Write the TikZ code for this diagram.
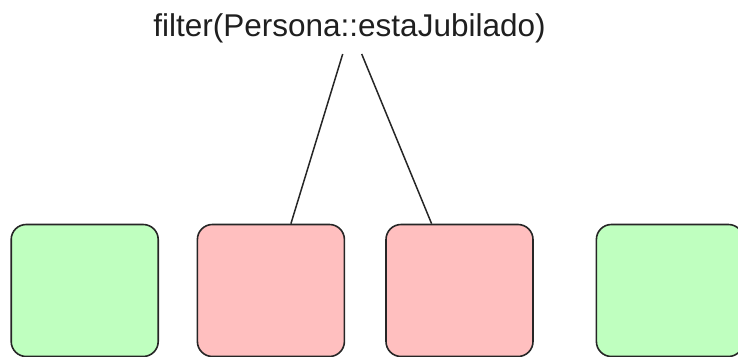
\documentclass[tikz,border=0pt]{standalone}
\usepackage{fontspec}
\setmainfont{Liberation Sans}
\usetikzlibrary{calc}
\definecolor{boxgreen}{HTML}{BFFFBF}
\definecolor{boxpink}{HTML}{FFBFBF}
\definecolor{edge}{HTML}{262626}
\tikzset{
  elem/.style={draw=edge, line width=1.6pt, rounded corners=15pt, minimum width=147pt, minimum height=132pt, inner sep=0pt},
  keep/.style={elem, fill=boxgreen},
  drop/.style={elem, fill=boxpink},
  conn/.style={draw=edge, line width=1.5pt},
  label/.style={font=\fontsize{31.5}{36}\selectfont, text=black!88, inner sep=0pt, anchor=base}
}
\begin{document}
\begin{tikzpicture}[x=1pt, y=-1pt]
\useasboundingbox (0,0) rectangle (738,356);
\begin{scope}
\clip (0,0) rectangle (738,356);
\node[keep] (b1) at (84.7,290.5) {};
\node[drop] (b2) at (270.9,290.5) {};
\node[drop] (b3) at (459.5,290.5) {};
\node[keep] (b4) at (669.9,290.5) {};
\end{scope}
\node[label] (t) at (349.5,36.7) {filter(Persona::estaJubilado)};
\coordinate (a1) at (342.7,54);
\coordinate (a2) at (361.7,54);
\draw[conn] (a1) -- ($(b2.north west)+(94.3,0)$);
\draw[conn] (a2) -- ($(b3.north west)+(46.4,0)$);
\end{tikzpicture}
\end{document}
